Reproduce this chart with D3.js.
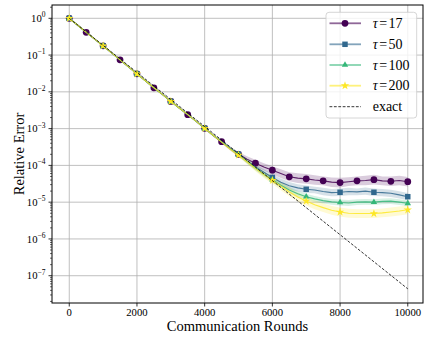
<!DOCTYPE html>
<html>
<head>
<meta charset="utf-8">
<script src="https://cdn.jsdelivr.net/npm/d3@7"></script>
<style>
body{margin:0;background:#fff;}
text{font-family:"Liberation Serif",serif;fill:#000;}
</style>
</head>
<body>
<svg id="svg" width="426" height="339"></svg>
<script>

var rounds=[0,250,500,750,1000,1250,1500,1750,2000,2250,2500,2750,3000,3250,3500,3750,4000,4250,4500,4750,
            5000,5250,5500,5750,6000,6250,6500,6750,7000,7250,7500,7750,8000,8250,8500,8750,9000,9250,9500,9750,10000];

var tau17=[1,0.646,0.417,0.272,0.178,0.115,0.0741,0.0479,0.0309,0.0200,0.0129,0.00851,0.00550,0.00363,0.00240,0.00158,0.00102,6.6e-4,4.4e-4,2.9e-4,
           2.0e-4,1.48e-4,1.15e-4,9.1e-5,7.4e-5,6.0e-5,4.9e-5,4.5e-5,4.3e-5,4.0e-5,3.8e-5,3.5e-5,3.4e-5,3.6e-5,3.8e-5,3.9e-5,4.1e-5,3.8e-5,3.7e-5,3.9e-5,3.6e-5];
var tau50=[1,0.646,0.417,0.272,0.178,0.115,0.0741,0.0479,0.0309,0.0200,0.0129,0.00851,0.00550,0.00363,0.00240,0.00158,0.00102,6.6e-4,4.4e-4,2.9e-4,
           2.0e-4,1.32e-4,9.1e-5,6.5e-5,4.7e-5,3.5e-5,2.8e-5,2.45e-5,2.24e-5,2.14e-5,1.95e-5,1.82e-5,1.86e-5,1.95e-5,1.9e-5,2.0e-5,1.86e-5,1.82e-5,1.74e-5,1.58e-5,1.41e-5];
var tau100=[1,0.646,0.417,0.272,0.178,0.115,0.0741,0.0479,0.0309,0.0200,0.0129,0.00851,0.00550,0.00363,0.00240,0.00158,0.00102,6.6e-4,4.4e-4,2.9e-4,
            2.0e-4,1.29e-4,8.5e-5,5.75e-5,4.1e-5,2.9e-5,2.14e-5,1.7e-5,1.41e-5,1.23e-5,1.1e-5,1.02e-5,9.8e-6,9.5e-6,1.0e-5,1.02e-5,1.0e-5,1.05e-5,1.07e-5,1.0e-5,9.3e-6];
var tau200=[1,0.646,0.417,0.272,0.178,0.115,0.0741,0.0479,0.0309,0.0200,0.0129,0.00851,0.00550,0.00363,0.00240,0.00158,0.00102,6.6e-4,4.3e-4,2.8e-4,
            1.9e-4,1.26e-4,8.3e-5,5.6e-5,3.9e-5,2.7e-5,1.9e-5,1.38e-5,1.07e-5,8.5e-6,7.1e-6,6.0e-6,5.4e-6,5.0e-6,4.9e-6,4.9e-6,4.9e-6,5.1e-6,5.4e-6,5.75e-6,6.2e-6];

// half width of the shaded band, in decades
var spread17=[0,0,0,0,0,0,0,0,0,0,0,0,0,0,0,0,0.02,0.03,0.04,0.05,0.06,0.08,0.09,0.10,0.11,0.12,0.12,0.13,0.13,0.13,0.12,0.13,0.13,0.12,0.12,0.13,0.13,0.12,0.13,0.13,0.13];
var spread50=[0,0,0,0,0,0,0,0,0,0,0,0,0,0,0,0,0.01,0.02,0.03,0.04,0.05,0.06,0.07,0.08,0.09,0.10,0.10,0.10,0.10,0.09,0.10,0.10,0.10,0.10,0.09,0.10,0.10,0.10,0.10,0.10,0.10];
var spread100=[0,0,0,0,0,0,0,0,0,0,0,0,0,0,0,0,0.01,0.02,0.03,0.04,0.05,0.06,0.07,0.07,0.08,0.08,0.08,0.08,0.08,0.08,0.08,0.08,0.08,0.08,0.08,0.08,0.08,0.08,0.08,0.08,0.08];
var spread200=[0,0,0,0,0,0,0,0,0,0,0,0,0,0,0,0,0.01,0.02,0.03,0.04,0.05,0.06,0.08,0.09,0.10,0.11,0.12,0.12,0.12,0.12,0.12,0.12,0.12,0.12,0.12,0.12,0.12,0.12,0.12,0.12,0.12];

var exactRounds=[0,10000];
var exactValues=[1,4.4e-8];

var labels=["17","50","100","200"];
var colors=["#440154","#31688e","#35b779","#fde725"];
var xTicks=[0,2000,4000,6000,8000,10000];
var yExps=[0,-1,-2,-3,-4,-5,-6,-7];

var series=[
  {name:labels[0],values:tau17,spread:spread17,color:colors[0],symbol:d3.symbolCircle,size:36,every:2},
  {name:labels[1],values:tau50,spread:spread50,color:colors[1],symbol:d3.symbolSquare,size:30,every:4},
  {name:labels[2],values:tau100,spread:spread100,color:colors[2],symbol:d3.symbolTriangle,size:18,every:4},
  {name:labels[3],values:tau200,spread:spread200,color:colors[3],symbol:d3.symbolStar,size:22,every:4}
];

var svg=d3.select("#svg");
var plot={left:52,right:423,top:5,bottom:303};

var xScale=d3.scaleLinear()
    .domain([-510,10450])
    .range([plot.left,plot.right]);

var yScale=d3.scaleLog()
    .domain([Math.pow(10,-7.742),Math.pow(10,0.3617)])
    .range([plot.bottom,plot.top]);

// grid
var grid=svg.append("g").attr("class","grid");
grid.selectAll("line.gx").data(xTicks).enter().append("line")
    .attr("x1",function(d){return xScale(d);}).attr("x2",function(d){return xScale(d);})
    .attr("y1",plot.top).attr("y2",plot.bottom)
    .attr("stroke","#b0b0b0").attr("stroke-width",0.8);
grid.selectAll("line.gy").data(yExps).enter().append("line")
    .attr("y1",function(d){return yScale(Math.pow(10,d));}).attr("y2",function(d){return yScale(Math.pow(10,d));})
    .attr("x1",plot.left).attr("x2",plot.right)
    .attr("stroke","#b0b0b0").attr("stroke-width",0.8);

svg.append("clipPath").attr("id","clip").append("rect")
    .attr("x",plot.left).attr("y",plot.top)
    .attr("width",plot.right-plot.left).attr("height",plot.bottom-plot.top);

var marks=svg.append("g").attr("clip-path","url(#clip)");

var band=d3.area()
    .x(function(d,i){return xScale(rounds[i]);})
    .y0(function(d){return yScale(d.v/Math.pow(10,d.s));})
    .y1(function(d){return yScale(d.v*Math.pow(10,d.s));});

var line=d3.line()
    .x(function(d,i){return xScale(rounds[i]);})
    .y(function(d){return yScale(d);});

series.forEach(function(s){
  var pts=s.values.map(function(v,i){return {v:v,s:s.spread[i]};});
  marks.append("path").attr("d",band(pts))
      .attr("fill",s.color).attr("fill-opacity",0.2).attr("stroke","none");
});

series.forEach(function(s){
  marks.append("path").attr("d",line(s.values))
      .attr("fill","none").attr("stroke",s.color).attr("stroke-opacity",0.85).attr("stroke-width",1.1);
  marks.selectAll(null).data(rounds.filter(function(r,i){return i%s.every===0;})).enter()
      .append("path")
      .attr("d",d3.symbol().type(s.symbol).size(s.size))
      .attr("transform",function(r){
          var i=rounds.indexOf(r);
          return "translate("+xScale(r)+","+yScale(s.values[i])+")";
      })
      .attr("fill",s.color);
});

marks.append("path")
    .attr("d",d3.line().x(function(d,i){return xScale(exactRounds[i]);}).y(function(d){return yScale(d);})(exactValues))
    .attr("fill","none").attr("stroke","#000").attr("stroke-width",0.8).attr("stroke-dasharray","2.8,1.6");

// frame
svg.append("rect").attr("x",plot.left).attr("y",plot.top)
    .attr("width",plot.right-plot.left).attr("height",plot.bottom-plot.top)
    .attr("fill","none").attr("stroke","#000").attr("stroke-width",1);

// x-axis
var xAxis=svg.append("g");
xAxis.selectAll("line").data(xTicks).enter().append("line")
    .attr("x1",function(d){return xScale(d);}).attr("x2",function(d){return xScale(d);})
    .attr("y1",plot.bottom).attr("y2",plot.bottom+3.5).attr("stroke","#000").attr("stroke-width",0.8);
xAxis.selectAll("text").data(xTicks).enter().append("text")
    .attr("x",function(d){return xScale(d);}).attr("y",plot.bottom+13)
    .attr("text-anchor","middle").attr("font-size","10.7px")
    .text(function(d){return d;});

// y-axis
var minor=[];
for(var e=-8;e<=0;e++){ for(var m=2;m<=9;m++){ var v=m*Math.pow(10,e); if(v>yScale.domain()[0]&&v<yScale.domain()[1]) minor.push(v);} }
var yAxis=svg.append("g");
yAxis.selectAll("line.minor").data(minor).enter().append("line")
    .attr("y1",function(d){return yScale(d);}).attr("y2",function(d){return yScale(d);})
    .attr("x1",plot.left-2).attr("x2",plot.left).attr("stroke","#000").attr("stroke-width",0.6);
yAxis.selectAll("line.major").data(yExps).enter().append("line")
    .attr("y1",function(d){return yScale(Math.pow(10,d));}).attr("y2",function(d){return yScale(Math.pow(10,d));})
    .attr("x1",plot.left-3.5).attr("x2",plot.left).attr("stroke","#000").attr("stroke-width",0.8);
var yl=yAxis.selectAll("text").data(yExps).enter().append("text")
    .attr("x",plot.left-6.5).attr("y",function(d){return yScale(Math.pow(10,d))+3.6;})
    .attr("text-anchor","end").attr("font-size","10.7px");
yl.append("tspan").text("10");
yl.append("tspan").attr("dy",-4.5).attr("font-size","7.5px")
    .text(function(d){return d<0?"\u2212"+(-d):""+d;});

// axis titles
svg.append("text").attr("x",(plot.left+plot.right)/2).attr("y",331)
    .attr("text-anchor","middle").attr("font-size","14.5px").text("Communication Rounds");
svg.append("text").attr("transform","translate(24,"+((plot.top+plot.bottom)/2)+") rotate(-90)")
    .attr("text-anchor","middle").attr("font-size","14.5px").text("Relative Error");

// legend
var legend=svg.append("g");
legend.append("rect").attr("x",326).attr("y",12.3).attr("width",90.7).attr("height",105.7)
    .attr("rx",3).attr("fill","#fff").attr("fill-opacity",0.8).attr("stroke","#cccccc").attr("stroke-width",0.8);
var rowY=[23.3,44.3,65,85.7,106.7];
series.forEach(function(s,i){
  var g=legend.append("g").attr("transform","translate(0,"+rowY[i]+")");
  g.append("line").attr("x1",329.5).attr("x2",361).attr("stroke",s.color)
      .attr("stroke-opacity",0.6).attr("stroke-width",1.8);
  g.append("path").attr("d",d3.symbol().type(s.symbol).size(s.size)).attr("transform","translate(345,0)").attr("fill",s.color);
  var t=g.append("text").attr("x",372.7).attr("y",4.6).attr("font-size","14px");
  t.append("tspan").attr("font-style","italic").text("\u03c4");
  t.append("tspan").attr("dx",1.5).text("=");
  t.append("tspan").attr("dx",1.5).text(s.name);
});
var ge=legend.append("g").attr("transform","translate(0,"+rowY[4]+")");
ge.append("line").attr("x1",329.5).attr("x2",361).attr("stroke","#000").attr("stroke-width",0.8).attr("stroke-dasharray","2.8,1.6");
ge.append("text").attr("x",372.7).attr("y",4.2).attr("font-size","14px").text("exact");

</script>
</body>
</html>
